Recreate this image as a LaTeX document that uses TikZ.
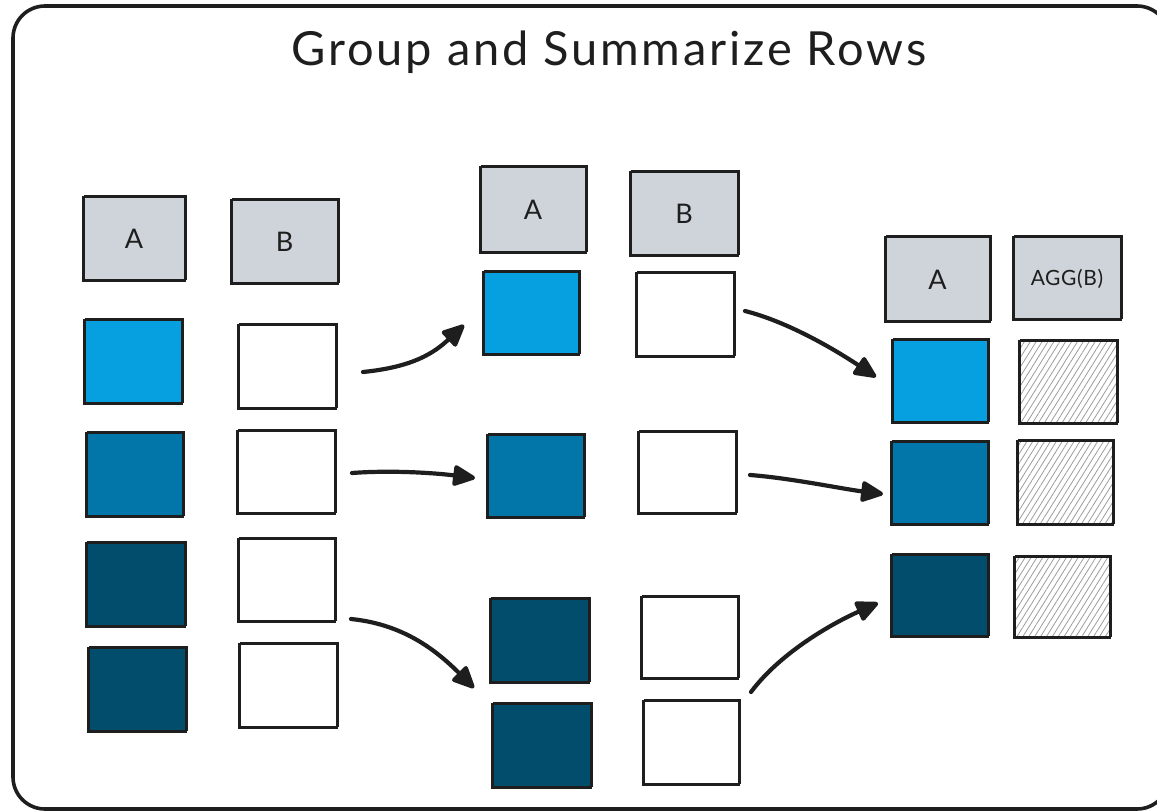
\documentclass[tikz,border=0pt]{standalone}
\usepackage{fontspec}
\setmainfont{Lato}
\usetikzlibrary{arrows.meta,patterns.meta,calc}

\definecolor{ink}{HTML}{1E1E1E}
\definecolor{hdrgray}{HTML}{CED4DA}
\definecolor{blueL}{HTML}{069FE0}
\definecolor{blueM}{HTML}{0276A8}
\definecolor{blueD}{HTML}{024D6C}
\definecolor{hatchgray}{HTML}{9C9C9C}

\tikzset{
  cell/.style={draw=ink, line width=1.8pt, inner sep=0pt, outer sep=0pt,
    postaction={draw=ink, line width=0.8pt,
      transform canvas={shift={(1.5pt,1.2pt)}}}},
  hdr/.style={cell, fill=hdrgray, text=ink, font=\fontsize{27}{27}\selectfont},
  aggHdr/.style={hdr, font=\fontsize{21}{21}\selectfont\addfontfeatures{LetterSpace=3}},
  keyL/.style={cell, fill=blueL},
  keyM/.style={cell, fill=blueM},
  keyD/.style={cell, fill=blueD},
  val/.style={cell, fill=white},
  agg/.style={cell, preaction={fill=white},
    preaction={pattern={Lines[angle=58,distance=5pt,line width=0.8pt]},
      pattern color=hatchgray}},
  flow/.style={draw=ink, line width=4.2pt, line cap=round,
    -{Triangle[length=25pt,width=22pt,round]}},
  frame/.style={draw=ink, line width=3.6pt, rounded corners=32pt},
}

% a box given by its corners: style, name, x1, y1, x2, y2, text
\newcommand\mkcell[7]{%
  \pgfmathsetmacro\mkX{(#3+#5)/2}\pgfmathsetmacro\mkY{(#4+#6)/2}%
  \pgfmathsetmacro\mkW{#5-#3}\pgfmathsetmacro\mkH{#6-#4}%
  \node[#1, minimum width=\mkW pt, minimum height=\mkH pt] (#2) at (\mkX,\mkY) {#7};}

\begin{document}
\begin{tikzpicture}[x=1pt, y=-1pt]
\useasboundingbox (0,0) rectangle (1157,811);
\clip (0,0) rectangle (1157,811);

% outer frame
\draw[frame] (13,6) rectangle (1169,809);

% title
\node[anchor=base, text=ink, font=\fontsize{47}{47}\selectfont\addfontfeatures{LetterSpace=6}] (title) at (609,65) {Group and Summarize Rows};

% input table
\mkcell{hdr}{hA1}{83}{197}{185}{281}{A}
\mkcell{hdr}{hB1}{231}{200}{338}{284}{B}
\mkcell{keyL}{a1r1}{84}{320}{182}{404}{}
\mkcell{keyM}{a1r2}{86}{433}{183}{517}{}
\mkcell{keyD}{a1r3}{86}{543}{185}{627}{}
\mkcell{keyD}{a1r4}{88}{648}{186}{732}{}
\mkcell{val}{b1r1}{238}{325}{336}{409}{}
\mkcell{val}{b1r2}{237}{431}{335}{514}{}
\mkcell{val}{b1r3}{238}{539}{335}{622}{}
\mkcell{val}{b1r4}{239}{644}{337}{728}{}

% grouped table
\mkcell{hdr}{hA2}{480}{167}{586}{253}{A}
\mkcell{hdr}{hB2}{630}{172}{738}{256}{B}
\mkcell{keyL}{a2r1}{483}{272}{579}{355}{}
\mkcell{val}{b2r1}{636}{273}{734}{357}{}
\mkcell{keyM}{a2r2}{487}{435}{584}{518}{}
\mkcell{val}{b2r2}{638}{432}{736}{514}{}
\mkcell{keyD}{a2r3}{490}{599}{589}{683}{}
\mkcell{val}{b2r3}{641}{597}{738}{679}{}
\mkcell{keyD}{a2r4}{492}{704}{591}{788}{}
\mkcell{val}{b2r4}{643}{701}{739}{785}{}

% summary table
\mkcell{hdr}{hA3}{885}{237}{990}{322}{A}
\mkcell{aggHdr}{hG3}{1013}{237}{1121}{320}{AGG(B)}
\mkcell{keyL}{a3r1}{892}{340}{988}{423}{}
\mkcell{agg}{g3r1}{1019}{341}{1117}{424}{}
\mkcell{keyM}{a3r2}{891}{442}{988}{525}{}
\mkcell{agg}{g3r2}{1017}{441}{1113}{525}{}
\mkcell{keyD}{a3r3}{891}{555}{988}{637}{}
\mkcell{agg}{g3r3}{1014}{557}{1110}{638}{}

% grouping arrows
\draw[flow] ([shift={(27,5)}]b1r1.east) .. controls +(50,-5) and +(-30,28) .. ([shift={(-19,11.5)}]a2r1.west);
\draw[flow] ([shift={(17,0.5)}]b1r2.east) .. controls +(40,-3) and +(-40,-5) .. ([shift={(-12,1.5)}]a2r2.west);
\draw[flow] ([shift={(16,-3)}]b1r3.south east) .. controls +(50,5) and +(-40,-40) .. ([shift={(-16,5)}]a2r3.south west);

% summarising arrows
\draw[flow] ([shift={(11,-4)}]b2r1.east) .. controls +(40,10) and +(-45,-30) .. ([shift={(-16,-4.5)}]a3r1.west);
\draw[flow] ([shift={(14,2)}]b2r2.east) .. controls +(40,3) and +(-40,-5) .. ([shift={(-8,10.5)}]a3r2.west);
\draw[flow] ([shift={(13,13)}]b2r3.south east) .. controls +(30,-40) and +(-45,20) .. ([shift={(-13,7)}]a3r3.west);
\end{tikzpicture}
\end{document}
